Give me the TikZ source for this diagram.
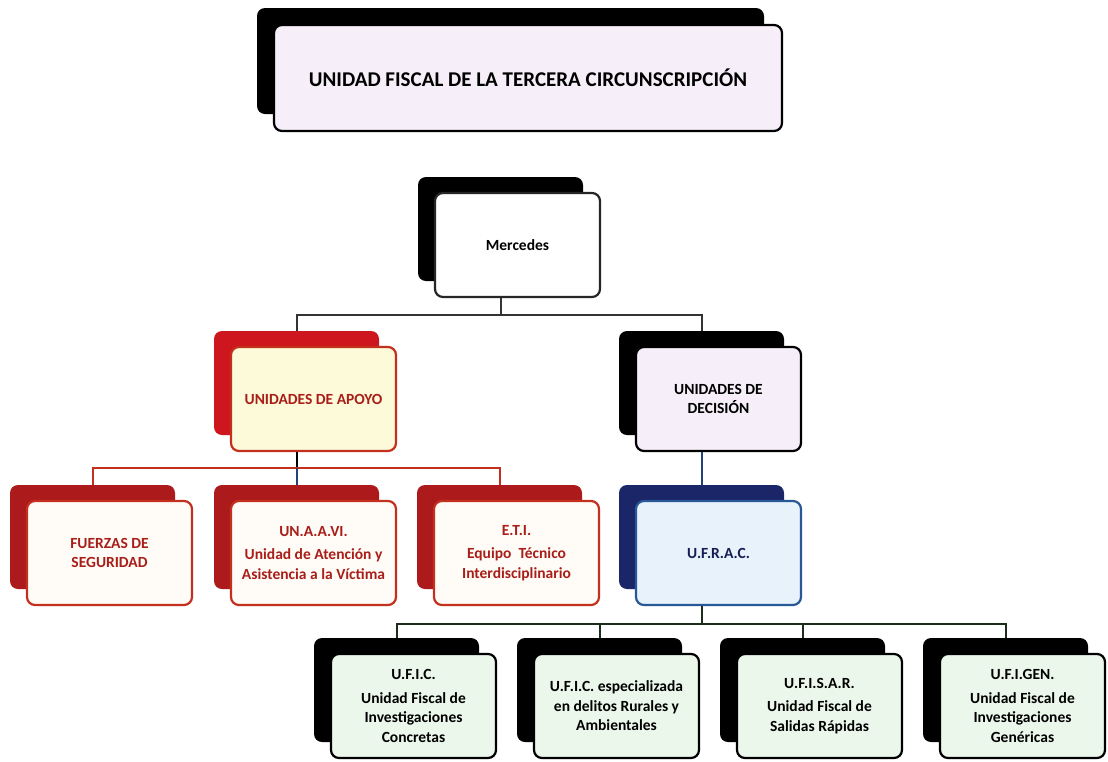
\documentclass[tikz,border=0pt]{standalone}
\usepackage{fontspec}
\setmainfont{Carlito}
\usepackage{tikz}
\usetikzlibrary{positioning}

\definecolor{lavanda}{RGB}{246,238,248}
\definecolor{amarillo}{RGB}{253,250,218}
\definecolor{crema}{RGB}{255,252,248}
\definecolor{celeste}{RGB}{232,242,251}
\definecolor{verdeclaro}{RGB}{236,247,236}
\definecolor{rojoapoyo}{RGB}{206,22,30}
\definecolor{rojooscuro}{RGB}{172,26,28}
\definecolor{rojoborde}{RGB}{196,48,30}
\definecolor{rojotexto}{RGB}{168,30,24}
\definecolor{azulmarino}{RGB}{26,38,104}
\definecolor{azulborde}{RGB}{40,88,150}
\definecolor{azullinea}{RGB}{36,66,122}
\definecolor{verdelinea}{RGB}{30,44,30}

\begin{document}
\begin{tikzpicture}[x=1pt,y=1pt]
\tikzstyle{every node}+=[inner sep=0pt, align=center, font=\fontsize{15.5}{19.5}\selectfont\bfseries]
\tikzstyle{back}=[rectangle, rounded corners=8pt, minimum width=165pt, minimum height=104pt]
\tikzstyle{front}=[back, draw, line width=2.2pt]
\tikzstyle{linea}=[line width=2pt]
\useasboundingbox (0,0) rectangle (1108,-761);

% titulo
\node[back, fill=black, minimum width=507pt, minimum height=106pt] (tituloB) at (510.5,-61) {};
\node[front, fill=lavanda, minimum width=508pt, minimum height=106pt, font=\fontsize{21}{25}\selectfont\bfseries] (titulo) at (528,-78) {UNIDAD FISCAL DE LA TERCERA CIRCUNSCRIPCIÓN};

% Mercedes
\node[back, fill=black] (mercedesB) at (500.5,-229) {};
\node[front, fill=white, draw=black!85] (mercedes) at (517.5,-245) {Mercedes};

% segundo nivel
\node[back, fill=rojoapoyo] (apoyoB) at (296.5,-383) {};
\node[front, fill=amarillo, draw=rojoborde, text=rojotexto] (apoyo) at (313.5,-399) {UNIDADES DE APOYO};
\node[back, fill=black] (decisionB) at (701.5,-383) {};
\node[front, fill=lavanda] (decision) at (718.5,-399) {UNIDADES DE\\DECISIÓN};

% tercer nivel
\node[back, fill=rojooscuro] (fuerzasB) at (92.5,-537) {};
\node[front, fill=crema, draw=rojoborde, text=rojotexto] (fuerzas) at (109.5,-553) {FUERZAS DE\\SEGURIDAD};
\node[back, fill=rojooscuro] (unaaviB) at (296.5,-537) {};
\node[front, fill=crema, draw=rojoborde, text=rojotexto] (unaavi) at (313.5,-553) {UN.A.A.VI.\\[4pt]Unidad de Atención y\\Asistencia a la Víctima};
\node[back, fill=rojooscuro] (etiB) at (499.5,-537) {};
\node[front, fill=crema, draw=rojoborde, text=rojotexto] (eti) at (516.5,-553) {E.T.I.\\[4pt]Equipo\ \ Técnico\\Interdisciplinario};
\node[back, fill=azulmarino] (ufracB) at (701.5,-537) {};
\node[front, fill=celeste, draw=azulborde, text=azulmarino!80!black] (ufrac) at (718.5,-553) {U.F.R.A.C.};

% cuarto nivel
\node[back, fill=black] (uficB) at (396.5,-690) {};
\node[front, fill=verdeclaro] (ufic) at (413.5,-706) {U.F.I.C.\\[4pt]Unidad Fiscal de\\Investigaciones\\Concretas};
\node[back, fill=black] (uficespB) at (599.5,-690) {};
\node[front, fill=verdeclaro] (uficesp) at (616.5,-706) {U.F.I.C. especializada\\en delitos Rurales y\\Ambientales};
\node[back, fill=black] (ufisarB) at (802.5,-690) {};
\node[front, fill=verdeclaro] (ufisar) at (819.5,-706) {U.F.I.S.A.R.\\[4pt]Unidad Fiscal de\\Salidas Rápidas};
\node[back, fill=black] (ufigenB) at (1005.5,-690) {};
\node[front, fill=verdeclaro] (ufigen) at (1022.5,-706) {U.F.I.GEN.\\[4pt]Unidad Fiscal de\\Investigaciones\\Genéricas};

% conectores
\draw[linea, draw=black!80] (mercedesB |- mercedes.south) -- ++(0,-17) coordinate (rama1) -| (apoyoB.north);
\draw[linea, draw=black!80] (rama1) -| (decisionB.north);
\draw[linea, draw=black] (apoyoB |- apoyo.south) -- ++(0,-16) coordinate (rama2);
\draw[linea, draw=rojoborde] (rama2) -| (fuerzasB.north);
\draw[linea, draw=rojoborde] (rama2) -| (etiB.north);
\draw[linea, draw=azullinea] (rama2) -- (unaaviB.north);
\draw[linea, draw=azullinea] (decisionB |- decision.south) -- (ufracB.north);
\draw[linea, draw=verdelinea] (ufracB |- ufrac.south) -- ++(0,-18) coordinate (rama3) -| (uficB.north);
\draw[linea, draw=verdelinea] (rama3) -| (uficespB.north);
\draw[linea, draw=verdelinea] (rama3) -| (ufisarB.north);
\draw[linea, draw=verdelinea] (rama3) -| (ufigenB.north);
\end{tikzpicture}
\end{document}
